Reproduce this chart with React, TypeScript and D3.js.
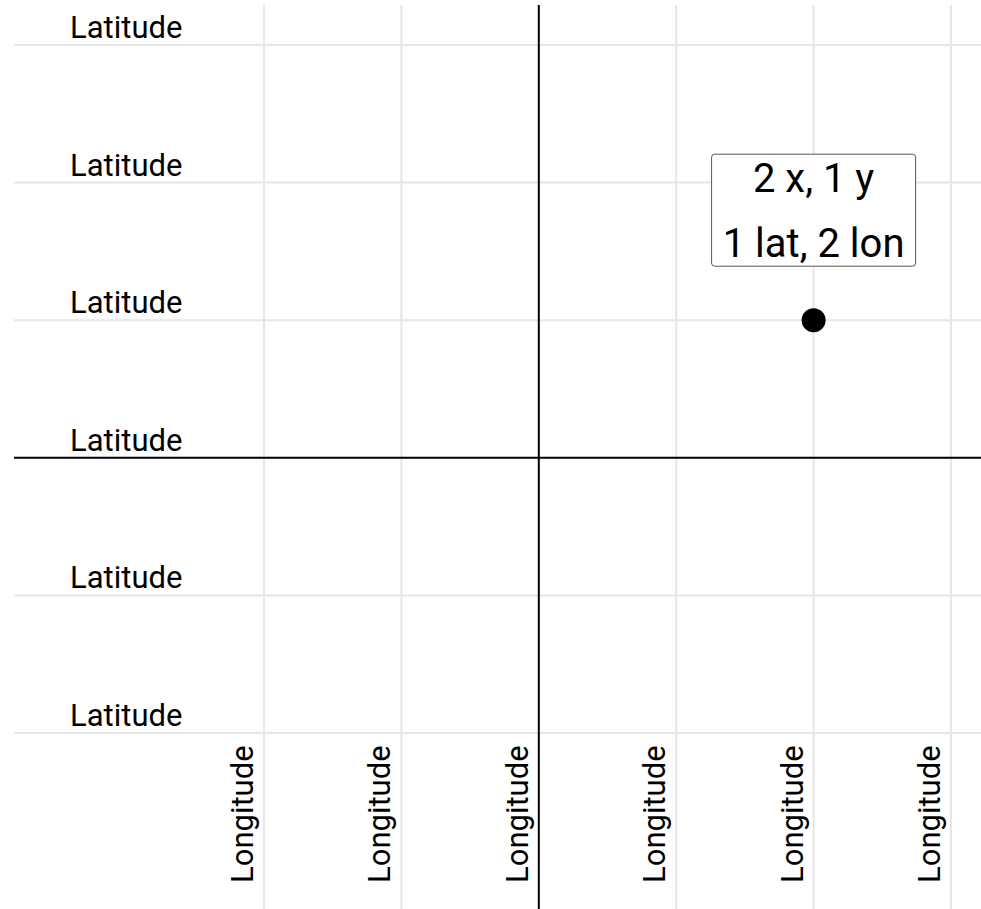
import React, { useEffect, useRef } from "react";
import * as d3 from "d3";

// grid values on each axis
const xTicks = [-2, -1, 0, 1, 2, 3];
const yTicks = [-2, -1, 0, 1, 2, 3];
const xTickLabel = "Longitude";
const yTickLabel = "Latitude";

// the single labelled point
const pointX = [2];
const pointY = [1];
const pointLabels = [["2 x, 1 y", "1 lat, 2 lon"]];

const width = 981;
const height = 909;
const font = "Roboto, 'Noto Sans', sans-serif";

export default function App() {
  const ref = useRef<SVGSVGElement>(null);

  useEffect(() => {
    document.body.style.margin = "0";
    const svg = d3.select(ref.current);
    svg.selectAll("*").remove();

    const x = d3.scaleLinear().domain([-2, 3]).range([264, 951]);
    const y = d3.scaleLinear().domain([-2, 3]).range([733, 45]);

    const top = 5, bottom = height, left = 14, right = width;

    // light grid
    const grid = svg.append("g").attr("stroke", "#e6e6e6").attr("stroke-width", 2);
    grid.selectAll("line.v")
      .data(xTicks.filter(d => d !== 0))
      .join("line")
      .attr("class", "v")
      .attr("x1", d => x(d)).attr("x2", d => x(d))
      .attr("y1", top).attr("y2", bottom);
    grid.selectAll("line.h")
      .data(yTicks.filter(d => d !== 0))
      .join("line")
      .attr("class", "h")
      .attr("y1", d => y(d)).attr("y2", d => y(d))
      .attr("x1", left).attr("x2", right);

    // zero axes
    svg.append("line")
      .attr("x1", x(0)).attr("x2", x(0))
      .attr("y1", top).attr("y2", bottom)
      .attr("stroke", "#000").attr("stroke-width", 2);
    svg.append("line")
      .attr("y1", y(0)).attr("y2", y(0))
      .attr("x1", left).attr("x2", right)
      .attr("stroke", "#000").attr("stroke-width", 2);

    // latitude labels sit above each horizontal line
    svg.append("g")
      .selectAll("text")
      .data(yTicks)
      .join("text")
      .attr("x", 70)
      .attr("y", d => y(d) - 7)
      .attr("font-family", font)
      .attr("font-size", 31)
      .attr("fill", "#000")
      .text(yTickLabel);

    // longitude labels, rotated, left of each vertical line
    svg.append("g")
      .selectAll("text")
      .data(xTicks)
      .join("text")
      .attr("transform", d => `translate(${x(d) - 11},883) rotate(-90)`)
      .attr("font-family", font)
      .attr("font-size", 31)
      .attr("fill", "#000")
      .text(xTickLabel);

    // point
    svg.append("g")
      .selectAll("circle")
      .data(pointX)
      .join("circle")
      .attr("cx", d => x(d))
      .attr("cy", (d, i) => y(pointY[i]))
      .attr("r", 12)
      .attr("fill", "#000");

    // label box
    pointX.forEach((px, i) => {
      const cx = x(px), cy = y(pointY[i]);
      const g = svg.append("g");
      g.append("rect")
        .attr("x", cx - 102).attr("y", cy - 166)
        .attr("width", 204).attr("height", 112)
        .attr("rx", 3)
        .attr("fill", "#fff")
        .attr("stroke", "#555")
        .attr("stroke-width", 1);
      g.selectAll("text")
        .data(pointLabels[i])
        .join("text")
        .attr("x", cx)
        .attr("y", (d, j) => cy - 128 + j * 65)
        .attr("text-anchor", "middle")
        .attr("font-family", font)
        .attr("font-size", 40)
        .attr("fill", "#000")
        .text(d => d);
    });
  }, []);

  return <svg ref={ref} width={width} height={height} style={{ display: "block" }}></svg>;
}
